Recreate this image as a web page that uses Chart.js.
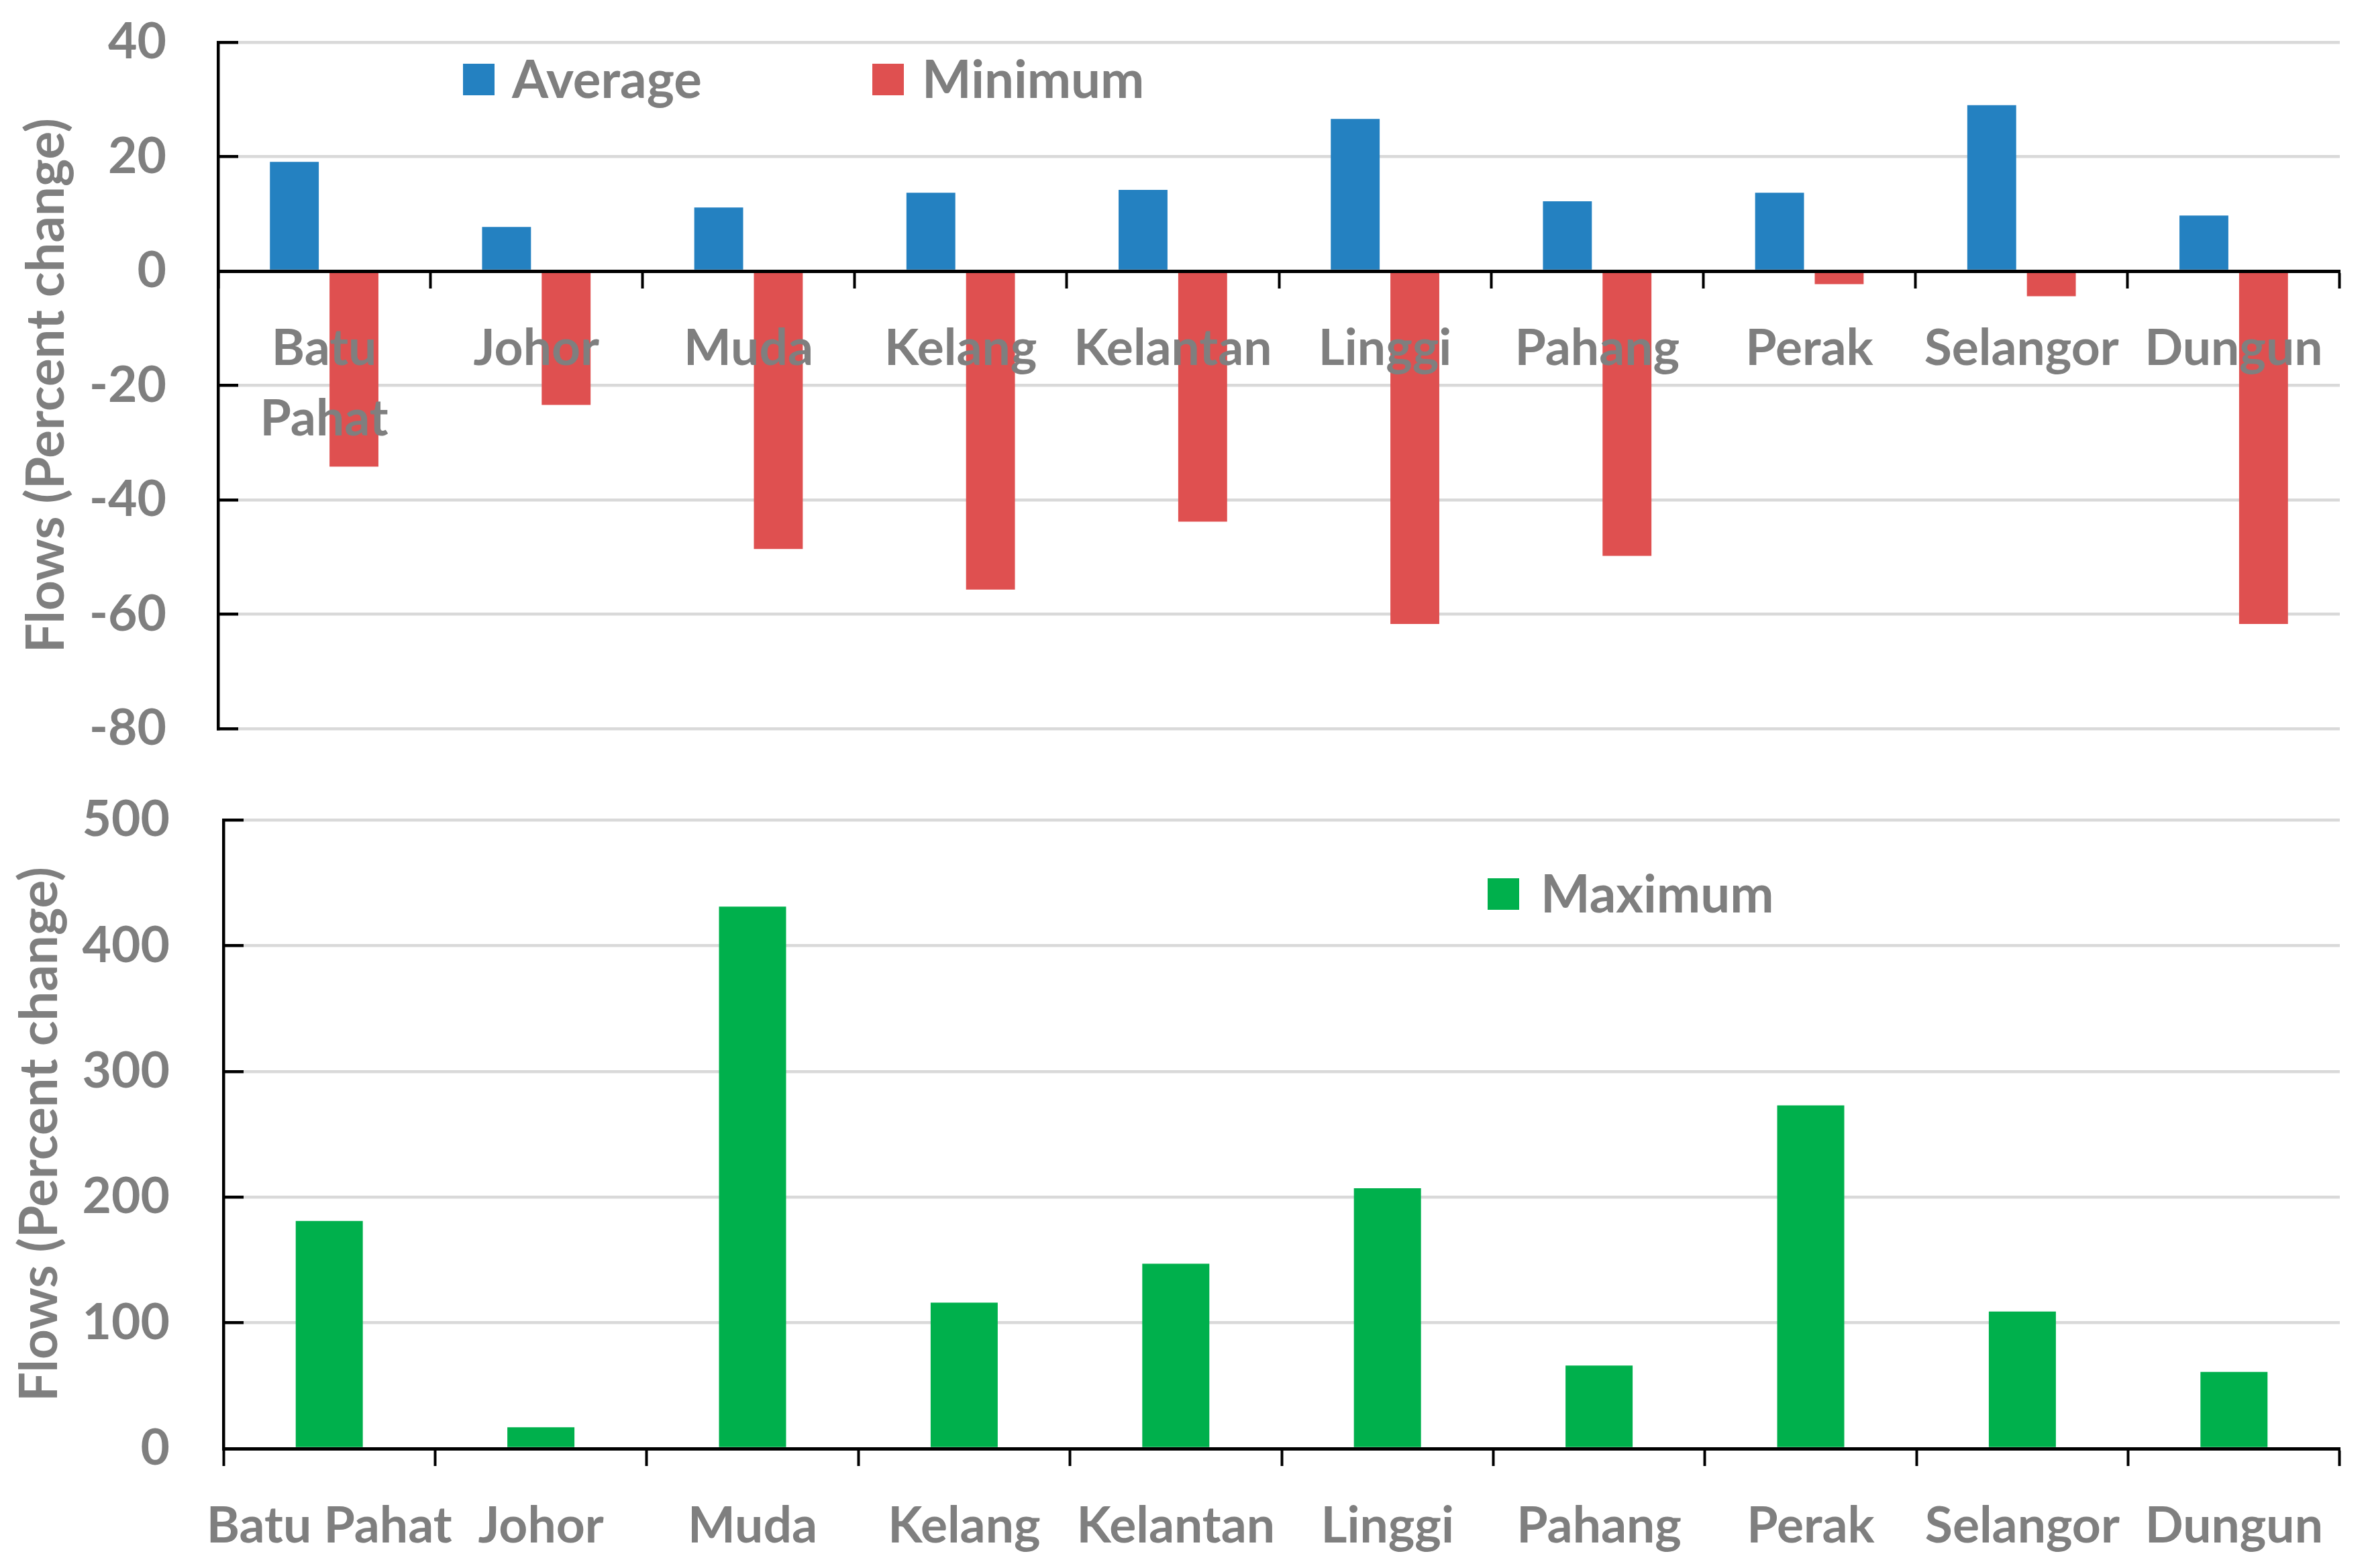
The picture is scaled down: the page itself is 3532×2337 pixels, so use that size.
<!DOCTYPE html>
<html>
<head>
<meta charset="utf-8">
<title>Flows (Percent change)</title>
<script src="https://cdn.jsdelivr.net/npm/chart.js@4.4.1/dist/chart.umd.min.js"></script>
<style>
  body { margin: 0; background: #fff; }
  #wrap { position: relative; width: 3532px; height: 2337px; font-family: Lato, "Open Sans", sans-serif; font-weight: bold; color: #7f7f7f; }
  canvas { position: absolute; left: 0; }
  #topChart { top: 0; }
  #bottomChart { top: 1150px; }
  .swatch { position: absolute; width: 47px; height: 47px; }
  .key { position: absolute; font-size: 78px; line-height: 90px; white-space: nowrap; }
</style>
</head>
<body>
<div id="wrap">
  <canvas id="topChart" width="3532" height="1150"></canvas>
  <canvas id="bottomChart" width="3532" height="1187"></canvas>

  <div class="swatch" style="left:690px;top:95px;background:#2481c1"></div>
  <div class="key" style="left:763px;top:71px">Average</div>
  <div class="swatch" style="left:1300px;top:95px;background:#df5050"></div>
  <div class="key" style="left:1374px;top:71px">Minimum</div>

  <div class="swatch" style="left:2217px;top:1309px;background:#00b04c"></div>
  <div class="key" style="left:2296px;top:1285px">Maximum</div>
</div>

<script>
const categories = ['Batu Pahat', 'Johor', 'Muda', 'Kelang', 'Kelantan', 'Linggi', 'Pahang', 'Perak', 'Selangor', 'Dungun'];
const averageChange = [19.1, 7.7, 11.1, 13.7, 14.2, 26.6, 12.2, 13.7, 29.0, 9.7];
const minimumChange = [-34.2, -23.4, -48.6, -55.7, -43.8, -61.7, -49.8, -2.3, -4.4, -61.7];
const maximumChange = [181, 17, 431, 116, 147, 207, 66, 273, 109, 61];
const topTicks = [-80, -60, -40, -20, 0, 20, 40];
const bottomTicks = [0, 100, 200, 300, 400, 500];

const GREY = '#7f7f7f';
const labelFont = { family: 'Lato', weight: 'bold', size: 75, lineHeight: 1.4 };
const tickFont = { family: 'Lato', weight: 'bold', size: 75, lineHeight: 1.2 };
const titleFont = { family: 'Lato', weight: 'bold', size: 78, lineHeight: 1.2 };

Chart.defaults.color = GREY;
Chart.defaults.animation = false;

// y axis with short inside tick marks (negative tick length)
function valueAxis(ticks, axisWidth, labelPad, titlePad) {
  return {
    min: ticks[0],
    max: ticks[ticks.length - 1],
    afterFit: s => {
      s.width = axisWidth;
      // the large label padding should not push the plot area down
      s.paddingTop = 0;
      s.paddingBottom = 0;
    },
    afterBuildTicks: s => { s.ticks = ticks.map(v => ({ value: v })); },
    ticks: { font: tickFont, color: GREY, padding: labelPad },
    grid: { color: '#d9d9d9', lineWidth: 4.5, drawTicks: true, tickLength: -30, tickColor: '#000', tickWidth: 4.5 },
    border: { color: '#000', width: 4.5 },
    title: { display: true, text: 'Flows (Percent change)', font: titleFont, color: GREY, padding: { top: titlePad, bottom: 0 } }
  };
}

function categoryAxis(tickLen, labelPad) {
  return {
    ticks: { font: labelFont, color: GREY, padding: labelPad, maxRotation: 0, autoSkip: false },
    grid: { offset: true, drawOnChartArea: false, drawTicks: true, tickLength: tickLen, tickColor: '#000', tickWidth: 4 },
    border: { color: '#000', width: 5 }
  };
}

// top panel: category axis sits on the zero line, labels drawn over the bars
const topX = categoryAxis(23, 40);
topX.position = { y: 0 };
topX.ticks.z = 1;
topX.border.z = 1;

new Chart(document.getElementById('topChart'), {
  type: 'bar',
  data: {
    labels: categories.map(c => c === 'Batu Pahat' ? c.split(' ') : c),
    datasets: [
      { label: 'Average', data: averageChange, backgroundColor: '#2481c1',
        categoryPercentage: 0.562, barPercentage: 0.82 },
      { label: 'Minimum', data: minimumChange, backgroundColor: '#df5050',
        categoryPercentage: 0.562, barPercentage: 0.82 }
    ]
  },
  options: {
    responsive: false,
    layout: { padding: { top: 63, bottom: 64, left: 0, right: 45 } },
    plugins: { legend: { display: false }, tooltip: { enabled: false } },
    scales: {
      x: topX,
      y: valueAxis(topTicks, 325, 107, 23)
    }
  }
});

const bottomX = categoryAxis(26, 37);
bottomX.afterFit = s => { s.height = 178; };

new Chart(document.getElementById('bottomChart'), {
  type: 'bar',
  data: {
    labels: categories,
    datasets: [
      { label: 'Maximum', data: maximumChange, backgroundColor: '#00b04c',
        categoryPercentage: 0.317, barPercentage: 1.0 }
    ]
  },
  options: {
    responsive: false,
    layout: { padding: { top: 72, bottom: 0, left: 0, right: 45 } },
    plugins: { legend: { display: false }, tooltip: { enabled: false } },
    scales: {
      x: bottomX,
      y: valueAxis(bottomTicks, 333, 110, 13)
    }
  }
});
</script>
</body>
</html>
